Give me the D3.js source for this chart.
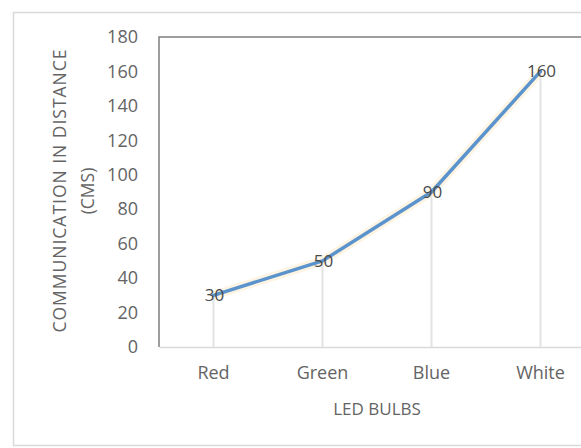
<!DOCTYPE html>
<html><head><meta charset="utf-8">
<script src="https://cdn.jsdelivr.net/npm/d3@7"></script>
<style>body{margin:0;background:#fff;}svg{display:block;}</style>
</head><body>
<script>
const categories = ["Red", "Green", "Blue", "White"];
const values = [30, 50, 90, 160];
const yTicks = [0, 20, 40, 60, 80, 100, 120, 140, 160, 180];
const yTitle = ["COMMUNICATION IN DISTANCE", "(CMS)"];
const xTitle = "LED BULBS";

const W = 581, H = 448;
const font = "'Open Sans', 'DejaVu Sans', sans-serif";
const svg = d3.select("body").append("svg").attr("width", W).attr("height", H);

// outer chart frame
svg.append("rect").attr("x", 13.5).attr("y", 12.5).attr("width", 600).attr("height", 433)
  .attr("fill", "#fff").attr("stroke", "#d9d9d9").attr("stroke-width", 1.5);

const plot = {left: 159, top: 37, bottom: 347, right: 595};
const x = d3.scaleBand().domain(categories).range([plot.left, plot.right]);
const y = d3.scaleLinear().domain([0, 180]).range([plot.bottom, plot.top]);

// plot area border (top & left)
svg.append("path").attr("d", `M${plot.left},${plot.bottom} V${plot.top} H${W+5}`)
  .attr("fill", "none").attr("stroke", "#7f7f7f").attr("stroke-width", 1.5);

// x axis
const xAxis = svg.append("g").attr("transform", `translate(0,${plot.bottom})`)
  .call(d3.axisBottom(x).tickSize(0).tickPadding(19));
xAxis.select(".domain").attr("stroke", "#d9d9d9").attr("stroke-width", 1.5);
xAxis.selectAll("text").attr("font-family", font).attr("font-size", 18).attr("fill", "#646464");

// y axis (labels only)
const yAxis = svg.append("g").attr("transform", `translate(${plot.left - 21},0)`)
  .call(d3.axisLeft(y).tickValues(yTicks).tickSize(0).tickPadding(0));
yAxis.select(".domain").remove();
yAxis.selectAll("text").attr("font-family", font).attr("font-size", 18).attr("fill", "#646464");

// drop lines
const cx = d => x(d) + x.bandwidth() / 2;
svg.append("g").selectAll("line").data(categories).join("line")
  .attr("x1", d => cx(d)).attr("x2", d => cx(d))
  .attr("y1", (d, i) => y(values[i])).attr("y2", plot.bottom)
  .attr("stroke", "#e3e3e3").attr("stroke-width", 2);

// line
const line = d3.line().x((d, i) => cx(categories[i])).y(d => y(d));
svg.append("path").datum(values).attr("d", line)
  .attr("fill", "none").attr("stroke", "#fde9c8").attr("stroke-width", 9).attr("opacity", 0.5);
svg.append("path").datum(values).attr("d", line)
  .attr("fill", "none").attr("stroke", "#5b93cc").attr("stroke-width", 3.5)
  .attr("stroke-linejoin", "round").attr("stroke-linecap", "round");

// data labels
svg.append("g").selectAll("text").data(values).join("text")
  .attr("x", (d, i) => cx(categories[i]) + 1).attr("y", d => y(d))
  .attr("dy", "0.35em").attr("text-anchor", "middle")
  .attr("font-family", font).attr("font-size", 17).attr("fill", "#4a4a4a")
  .text(d => d);

// y title
const yt = svg.append("text").attr("transform", `translate(60,191) rotate(-90)`)
  .attr("text-anchor", "middle").attr("font-family", font).attr("font-size", 17.5).attr("fill", "#646464");
yt.selectAll("tspan").data(yTitle).join("tspan")
  .attr("x", 0).attr("dy", (d, i) => i === 0 ? "0.35em" : "1.6em")
  .attr("textLength", (d, i) => i === 0 ? 283 : null)
  .attr("lengthAdjust", "spacing")
  .text(d => d);

// x title
svg.append("text").attr("x", (plot.left + plot.right) / 2).attr("y", 409).attr("dy", "0.35em")
  .attr("text-anchor", "middle").attr("font-family", font).attr("font-size", 17).attr("fill", "#646464")
  .text(xTitle);
</script>
</body></html>
